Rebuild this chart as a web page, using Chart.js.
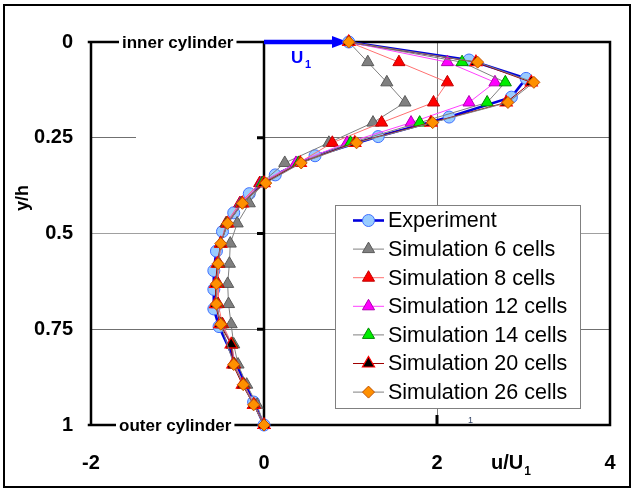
<!DOCTYPE html>
<html><head><meta charset="utf-8">
<script src="https://cdn.jsdelivr.net/npm/chart.js@4"></script>
<style>html,body{margin:0;padding:0;background:#fff}#wrap{width:634px;height:489px;position:relative}</style>
</head><body><div id="wrap"><canvas id="c" width="634" height="489"></canvas></div>
<script>
const xTicks = [-2, 0, 2, 4];
const yTicks = [0, 0.25, 0.5, 0.75, 1];

const expY = [0, 0.047, 0.095, 0.144, 0.196, 0.247, 0.297, 0.347, 0.396, 0.446, 0.495, 0.546, 0.597, 0.646, 0.697, 0.743, 0.940, 1];
const expX = [0.98, 2.37, 3.03, 2.86, 2.14, 1.32, 0.59, 0.13, -0.17, -0.35, -0.48, -0.55, -0.58, -0.58, -0.58, -0.52, -0.12, 0];

const simY  = [0, 0.0526, 0.1053, 0.1579, 0.2105, 0.2632, 0.3158, 0.3684, 0.4211, 0.4737, 0.5263, 0.5789, 0.6316, 0.6842, 0.7368, 0.7895, 0.8421, 0.8947, 0.9474, 1];
const sim6  = [0.98, 1.20, 1.42, 1.63, 1.26, 0.75, 0.24, -0.03, -0.17, -0.31, -0.39, -0.40, -0.42, -0.41, -0.38, -0.35, -0.30, -0.20, -0.08, 0];
const sim8  = [0.98, 1.56, 2.12, 1.96, 1.36, 0.79, 0.40, -0.05, -0.28, -0.44, -0.50, -0.52, -0.53, -0.53, -0.48, -0.37, -0.34, -0.23, -0.11, 0];
const sim12 = [0.98, 2.12, 2.67, 2.37, 1.70, 0.96, 0.37, -0.03, -0.27, -0.43, -0.50, -0.53, -0.55, -0.55, -0.50, -0.37, -0.35, -0.24, -0.12, 0];
const sim14 = [0.98, 2.29, 2.79, 2.58, 1.80, 1.00, 0.40, -0.02, -0.26, -0.43, -0.50, -0.53, -0.55, -0.55, -0.50, -0.37, -0.35, -0.24, -0.12, 0];
const sim20 = [0.98, 2.45, 3.09, 2.80, 1.93, 1.05, 0.42, 0.00, -0.25, -0.42, -0.50, -0.54, -0.56, -0.56, -0.51, -0.38, -0.36, -0.25, -0.12, 0];
const sim26 = [0.98, 2.47, 3.12, 2.82, 1.95, 1.07, 0.43, 0.02, -0.25, -0.42, -0.50, -0.53, -0.55, -0.55, -0.50, null, -0.35, -0.24, -0.12, 0];

const seriesNames = ['Experiment', 'Simulation 6 cells', 'Simulation 8 cells', 'Simulation 12 cells', 'Simulation 14 cells', 'Simulation 20 cells', 'Simulation 26 cells'];

const FONT = "'Liberation Sans', Arial, sans-serif";

function pts(xs, ys) {
  const out = [];
  for (let i = 0; i < xs.length; i++) if (xs[i] !== null) out.push({x: xs[i], y: ys[i]});
  return out;
}

const styles = [
  {line:'#0000dd', lw:2.6, fill:'#99ccff', border:'#3f6fff', shape:'circle', r:6, bw:1},
  {line:'#808080', lw:1, fill:'#808080', border:'#5a5a5a', shape:'triangle', r:7, bw:1},
  {line:'#ff7070', lw:1, fill:'#ff0000', border:'#c00000', shape:'triangle', r:7, bw:1},
  {line:'#ff40ff', lw:1, fill:'#ff00ff', border:'#b000b0', shape:'triangle', r:7, bw:1},
  {line:'#808080', lw:1, fill:'#00ee00', border:'#008800', shape:'triangle', r:7, bw:1},
  {line:'#a00000', lw:1, fill:'#000000', border:'#ff0000', shape:'triangle', r:7, bw:1.2},
  {line:'#808080', lw:1, fill:'#ff9000', border:'#c05000', shape:'rectRot', r:6, bw:1}
];
const seriesData = [pts(expX, expY), pts(sim6, simY), pts(sim8, simY), pts(sim12, simY), pts(sim14, simY), pts(sim20, simY), pts(sim26, simY)];

const datasets = seriesData.map((d, i) => ({
  label: seriesNames[i],
  data: d,
  showLine: true,
  borderColor: styles[i].line,
  borderWidth: styles[i].lw,
  pointStyle: styles[i].shape,
  pointRadius: styles[i].r,
  pointBackgroundColor: styles[i].fill,
  pointBorderColor: styles[i].border,
  pointBorderWidth: styles[i].bw,
  pointHoverRadius: styles[i].r,
  order: 6 - i,
  clip: false,
  tension: 0
}));

function drawShape(ctx, st, x, y) {
  ctx.save();
  ctx.fillStyle = st.fill; ctx.strokeStyle = st.border; ctx.lineWidth = st.bw;
  if (Chart.helpers && Chart.helpers.drawPoint) {
    Chart.helpers.drawPoint(ctx, {pointStyle: st.shape, radius: st.r, rotation: 0, borderWidth: st.bw}, x, y);
  }
  ctx.restore();
}

const decor = {
  id: 'decor',
  beforeDatasetsDraw(chart) {
    const ctx = chart.ctx, a = chart.chartArea;
    const xs = chart.scales.x, ys = chart.scales.y;
    const L = a.left, R = a.right, T = a.top, B = a.bottom;
    const x0 = xs.getPixelForValue(0), x2 = xs.getPixelForValue(2);
    ctx.save();
    const y25 = ys.getPixelForValue(0.25);
    ctx.fillStyle = '#fff';
    ctx.fillRect(136, y25 - 2, x0 - 136 - 6, 4);
    ctx.strokeStyle = '#000';
    ctx.lineCap = 'square';
    ctx.lineWidth = 2.5;
    ctx.beginPath();
    ctx.moveTo(L, T); ctx.lineTo(L, B);
    ctx.moveTo(R, T); ctx.lineTo(R, B);
    ctx.moveTo(L - 2, T); ctx.lineTo(R, T);
    ctx.moveTo(L - 2, B); ctx.lineTo(R, B);
    ctx.moveTo(x0, T); ctx.lineTo(x0, B);
    ctx.stroke();
    ctx.lineCap = 'butt';
    ctx.lineWidth = 3;
    ctx.beginPath();
    [0.25, 0.5, 0.75].forEach(v => {
      const yy = ys.getPixelForValue(v);
      ctx.moveTo(x0 - 7, yy); ctx.lineTo(x0, yy);
    });
    ctx.moveTo(x2, B); ctx.lineTo(x2, B - 10);
    ctx.stroke();
    ctx.font = 'bold 17px ' + FONT;
    ctx.textBaseline = 'middle';
    ctx.textAlign = 'left';
    const w1 = ctx.measureText('inner cylinder').width;
    ctx.fillStyle = '#fff';
    ctx.fillRect(119, T - 9, w1 + 6, 18);
    const w2 = ctx.measureText('outer cylinder').width;
    ctx.fillRect(116, B - 9, w2 + 6, 18);
    ctx.fillStyle = '#000';
    ctx.fillText('inner cylinder', 122, T + 1);
    ctx.fillText('outer cylinder', 119, B + 1);
    ctx.strokeStyle = '#0000ff'; ctx.fillStyle = '#0000ff';
    ctx.lineWidth = 4.5;
    ctx.beginPath(); ctx.moveTo(x0, T); ctx.lineTo(x0 + 72, T); ctx.stroke();
    ctx.beginPath(); ctx.moveTo(x0 + 84, T); ctx.lineTo(x0 + 68, T - 6); ctx.lineTo(x0 + 68, T + 6); ctx.closePath(); ctx.fill();
    ctx.font = 'bold 17px ' + FONT;
    ctx.textBaseline = 'alphabetic';
    ctx.fillText('U', 291, 63);
    ctx.font = 'bold 11px ' + FONT;
    ctx.fillText('1', 305, 68);
    ctx.restore();
  },
  afterDatasetsDraw(chart) {
    const ctx = chart.ctx;
    ctx.save();
    ctx.fillStyle = '#fff';
    ctx.fillRect(335, 205, 245, 203);
    ctx.strokeStyle = '#808080'; ctx.lineWidth = 1;
    ctx.strokeRect(335.5, 205.5, 245, 203);
    ctx.font = '21.5px ' + FONT;
    ctx.textBaseline = 'middle';
    ctx.textAlign = 'left';
    for (let i = 0; i < seriesNames.length; i++) {
      const yy = 220.5 + i * 28.6;
      const st = styles[i];
      ctx.strokeStyle = st.line; ctx.lineWidth = st.lw;
      ctx.beginPath(); ctx.moveTo(353, yy); ctx.lineTo(384, yy); ctx.stroke();
      drawShape(ctx, st, 368.5, yy);
      ctx.fillStyle = '#000';
      ctx.fillText(seriesNames[i], 388, yy + 1);
    }
    ctx.font = 'bold 18px ' + FONT;
    ctx.fillStyle = '#000';
    ctx.save();
    ctx.translate(23, 198);
    ctx.rotate(-Math.PI / 2);
    ctx.textAlign = 'center';
    ctx.textBaseline = 'middle';
    ctx.fillText('y/h', 0, 0);
    ctx.restore();
    ctx.font = 'bold 20px ' + FONT;
    ctx.textBaseline = 'alphabetic';
    ctx.fillText('u/U', 491, 469);
    const wu = ctx.measureText('u/U').width;
    ctx.font = 'bold 12px ' + FONT;
    ctx.fillText('1', 491 + wu + 1, 475);
    ctx.font = '9px ' + FONT;
    ctx.fillStyle = '#334466';
    ctx.fillText('1', 468, 423);
    ctx.strokeStyle = '#000'; ctx.lineWidth = 2;
    ctx.strokeRect(4, 5, 626, 482);
    ctx.restore();
  }
};

new Chart(document.getElementById('c'), {
  type: 'scatter',
  data: { datasets },
  options: {
    responsive: false,
    animation: false,
    devicePixelRatio: 1,
    layout: { padding: { left: 0, right: 24, top: 42, bottom: 0 } },
    plugins: { legend: { display: false }, tooltip: { enabled: false } },
    scales: {
      x: {
        type: 'linear', min: -2, max: 4,
        afterBuildTicks: s => { s.ticks = xTicks.map(v => ({value: v})); },
        afterFit: s => { s.height = 64; s.paddingLeft = 0; s.paddingRight = 0; },
        ticks: { color: '#000', font: { family: FONT, size: 20, weight: 'bold' }, padding: 26, maxRotation: 0, callback: v => String(v) },
        grid: { drawTicks: false, lineWidth: 1, color: c => (c.tick && c.tick.value === 2) ? '#7a7a7a' : 'rgba(0,0,0,0)' },
        border: { display: false }
      },
      y: {
        type: 'linear', min: 0, max: 1, reverse: true,
        afterBuildTicks: s => { s.ticks = yTicks.map(v => ({value: v})); },
        afterFit: s => { s.width = 91; s.paddingTop = 0; s.paddingBottom = 0; },
        ticks: { color: '#000', font: { family: FONT, size: 20, weight: 'bold' }, padding: 18, callback: v => String(v) },
        grid: { drawTicks: false, lineWidth: 1, color: c => (c.tick && c.tick.value > 0 && c.tick.value < 1) ? (c.tick.value === 0.5 ? '#a0a0a0' : '#707070') : 'rgba(0,0,0,0)' },
        border: { display: false }
      }
    }
  },
  plugins: [decor]
});
</script>
</body></html>
